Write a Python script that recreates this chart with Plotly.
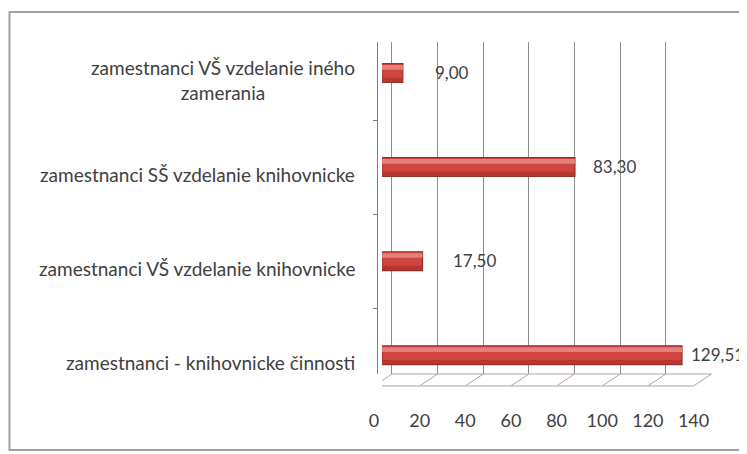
import plotly.graph_objects as go

# Excel order: first category sits at the bottom
categories = [
    "zamestnanci - knihovnicke činnosti",
    "zamestnanci VŠ vzdelanie knihovnicke",
    "zamestnanci SŠ vzdelanie knihovnicke",
    "zamestnanci VŠ vzdelanie iného zamerania",
]
category_labels = [
    "zamestnanci - knihovnicke činnosti",
    "zamestnanci VŠ vzdelanie knihovnicke",
    "zamestnanci SŠ vzdelanie knihovnicke",
    "zamestnanci VŠ vzdelanie iného<br>zamerania",
]
values = [129.51, 17.50, 83.30, 9.00]
x_ticks = [0, 20, 40, 60, 80, 100, 120, 140]

W, H = 747, 454
PAGE_OFFSET = 8  # body margin of the html page
font = "Lato"
text_color = "#404040"
grid_color = "#8c8c8c"
floor_color = "#b4a2a2"


def px_x(p):
    return (p - PAGE_OFFSET) / W


def px_y(p):
    return 1 - (p - PAGE_OFFSET) / H


fig = go.Figure()

# cylinder look: body, lower shade, upper highlight
bar_layers = [
    {"offset": -0.1, "width": 0.2, "color": "#cf4640", "line": {"color": "#96302b", "width": 1.2}},
    {"offset": -0.095, "width": 0.045, "color": "#b8362f", "line": {"width": 0}},
    {"offset": 0.035, "width": 0.05, "color": "#e3807a", "line": {"width": 0}},
]
for layer in bar_layers:
    fig.add_trace(
        go.Bar(
            x=values,
            y=categories,
            orientation="h",
            offset=layer["offset"],
            width=layer["width"],
            marker={"color": layer["color"], "line": layer["line"]},
            xaxis="x",
            yaxis="y",
            hoverinfo="skip",
        )
    )

annotations = []
for cat, lab in zip(categories, category_labels):
    annotations.append(
        dict(
            x=px_x(357), xref="paper", y=cat, yref="y",
            text=lab, showarrow=False, xanchor="right", align="center",
            yshift=-7, font={"family": font, "size": 19, "color": text_color},
        )
    )
# value labels sit on the perspective (label) scale x3
for cat, v in zip(categories, values):
    annotations.append(
        dict(
            x=v, xref="x3", y=cat, yref="y",
            text=f"{v:.2f}".replace(".", ","), showarrow=False,
            xanchor="left", yshift=1,
            font={"family": font, "size": 17, "color": text_color},
        )
    )

# 3D floor: slanted ticks from back wall to front edge
slant = 7.9
depth = -0.036
shapes = []
for t in x_ticks:
    shapes.append(
        dict(type="line", xref="x2", yref="y domain", x0=t, y0=0, x1=t - slant, y1=depth,
             line={"color": floor_color, "width": 1})
    )
shapes.append(
    dict(type="line", xref="x2", yref="y domain", x0=-slant, y0=depth, x1=x_ticks[-1] - slant, y1=depth,
         line={"color": floor_color, "width": 1})
)
shapes.append(
    dict(type="line", xref="x2", yref="y domain", x0=0, y0=0, x1=x_ticks[-1], y1=0,
         line={"color": floor_color, "width": 1})
)
# outer chart border
shapes.append(
    dict(type="rect", xref="paper", yref="paper", x0=px_x(9.5), x1=1.05, y0=px_y(450), y1=px_y(12),
         line={"color": "#a0a0a0", "width": 2}, fillcolor="rgba(0,0,0,0)", layer="below")
)

fig.update_layout(
    width=W,
    height=H,
    margin={"l": 0, "r": 0, "t": 0, "b": 0, "autoexpand": False},
    paper_bgcolor="white",
    plot_bgcolor="rgba(0,0,0,0)",
    showlegend=False,
    barmode="overlay",
    xaxis={
        "domain": [px_x(382), px_x(712)],
        "range": [0, 142.46],
        "showgrid": False,
        "zeroline": False,
        "showticklabels": False,
        "anchor": "y",
    },
    xaxis2={
        "overlaying": "x",
        "anchor": "y",
        "side": "bottom",
        "range": [-4.374, 140.2],
        "tickvals": x_ticks,
        "showgrid": True,
        "gridcolor": grid_color,
        "gridwidth": 1,
        "zeroline": False,
        "ticklabelshift": -18,
        "ticklabelstandoff": 34,
        "tickfont": {"family": font, "size": 18, "color": text_color},
    },
    xaxis3={
        "overlaying": "x",
        "anchor": "y",
        "range": [-15.02, 140.35],
        "visible": False,
    },
    yaxis={
        "domain": [px_y(374), px_y(42)],
        "range": [-0.2, 3.33],
        "type": "category",
        "categoryorder": "array",
        "categoryarray": categories,
        "showticklabels": False,
        "showgrid": False,
        "zeroline": False,
        "showline": True,
        "linecolor": "#808080",
        "ticks": "outside",
        "ticklen": 4,
        "tickcolor": "#808080",
        "tickson": "boundaries",
        "anchor": "free",
        "position": px_x(377),
    },
    annotations=annotations,
    shapes=shapes,
)

fig.write_html("out.html")
